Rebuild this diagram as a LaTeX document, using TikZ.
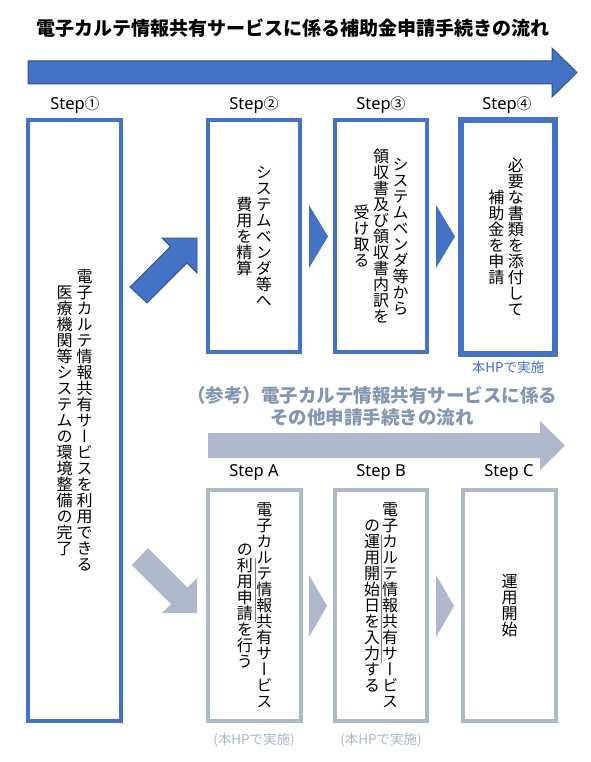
\documentclass[tikz,border=0pt]{standalone}
\usepackage{fontspec}
\setmainfont{Noto Sans CJK JP}
\newfontfamily\vfont{Noto Sans CJK JP}[RawFeature=+vert]
\newfontfamily\cjkfont{Noto Sans CJK JP}
\newfontfamily\latfont{Noto Sans}
\definecolor{ofblue}{HTML}{4472C4}
\definecolor{ofdark}{HTML}{2F528F}
\definecolor{ofgray}{HTML}{ADB9CA}
\definecolor{ofgraytext}{HTML}{8497B0}
\definecolor{seamgray}{HTML}{808080}
\makeatletter
\def\vcol@stop{}
\def\vcol@#1{\ifx#1\vcol@stop\else\hbox to 1em{\hss\vrule height .88em depth .12em width 0pt #1\hss}\expandafter\vcol@\fi}
\newcommand\vcol[1]{\vbox{\baselineskip=1em\lineskiplimit=-\maxdimen\lineskip=0pt\vcol@#1\vcol@stop}}
\newcommand\vc[1]{$\vcenter{\vcol{#1}}$}
\makeatother
\newcommand\circnum[1]{{\cjkfont\fontsize{15}{15}\selectfont #1}}
\tikzset{
  bluebox/.style={draw=ofblue, line width=4pt, fill=white, inner sep=0pt, font=\vfont\fontsize{16}{16}\selectfont},
  graybox/.style={draw=ofgray, line width=4pt, fill=white, inner sep=0pt, font=\vfont\fontsize{16}{16}\selectfont},
  steplbl/.style={font=\latfont\fontsize{16.5}{16.5}\selectfont, inner sep=0pt},
  bigarrowblue/.style={fill=ofblue, draw=ofdark, line width=1pt},
  bigarrowgray/.style={fill=ofgray},
  chevblue/.style={fill=ofblue},
  chevgray/.style={fill=ofgray},
  seam/.style={draw=seamgray, line width=1pt}
}
\begin{document}
\begin{tikzpicture}[x=1pt,y=-1pt]
\useasboundingbox[fill=white] (0,0) rectangle (590,762);

% title
\node[font=\bfseries\fontsize{19}{19}\selectfont, inner sep=0pt] (title) at (293,28) {電子カルテ情報共有サービスに係る補助金申請手続きの流れ};

% big blue arrow
\path[bigarrowblue] (28,61) -- (552,61) -- (552,48) -- (577,72.5) -- (552,97) -- (552,84) -- (28,84) -- cycle;

% step labels
\node[steplbl] (l1) at (75,105) {Step\circnum{①}};
\node[steplbl] (l2) at (254,105) {Step\circnum{②}};
\node[steplbl] (l3) at (381,105) {Step\circnum{③}};
\node[steplbl] (l4) at (507,105) {Step\circnum{④}};

% boxes top
\node[bluebox, minimum width=93pt, minimum height=601pt] (s1) at (74.5,420.5)
  {\hbox{\vc{医療機関等システムの環境整備の完了}\kern4pt\vc{電子カルテ情報共有サービスを利用できる}}};
\node[bluebox, minimum width=92pt, minimum height=232pt] (s2) at (254,236)
  {\hbox{\vc{費用を精算}\kern3.5pt\vc{システムベンダ等へ}}};
\node[bluebox, minimum width=92pt, minimum height=232pt] (s3) at (381,236)
  {\hbox{\vc{受け取る}\kern3.5pt\vc{領収書及び領収書内訳を}\kern3.5pt\vc{システムベンダ等から}}};
\node[bluebox, line width=6pt, minimum width=94pt, minimum height=234pt] (s4) at (508,237)
  {\hbox{\vc{補助金を申請}\kern3.5pt\vc{必要な書類を添付して}\kern4pt}};
\node[text=ofblue, font=\fontsize{13.5}{13.5}\selectfont, inner sep=0pt] (hp4) at (508,367) {本HPで実施};

% blue chevrons
\path[chevblue] (309,205) -- (328,236.5) -- (309,268) -- cycle;
\path[chevblue] (436,205) -- (455,236.5) -- (436,268) -- cycle;

% blue diagonal arrow
\path[bigarrowblue, line width=0.8pt] (130,287) -- (170.5,246.5) -- (162,238) -- (197,238) -- (197,273) -- (187,263) -- (147,303) -- cycle;

% reference title
\node[font=\bfseries\fontsize{18.5}{22}\selectfont, text=ofgraytext, align=center, inner sep=0pt] (sub) at (372,406)
  {（参考）電子カルテ情報共有サービスに係る\\その他申請手続きの流れ};

% big gray arrow
\path[bigarrowgray] (208,433) -- (540,433) -- (540,421) -- (565,445.5) -- (540,470) -- (540,458) -- (208,458) -- cycle;

% gray step labels
\node[steplbl] (la) at (254,473) {Step A};
\node[steplbl] (lb) at (381,473) {Step B};
\node[steplbl] (lc) at (509,473) {Step C};

% gray diagonal arrow
\path[bigarrowgray] (132,565) -- (171,604) -- (162,613) -- (197,613) -- (197,578) -- (187.5,587.5) -- (148,548) -- cycle;

% gray boxes
\node[graybox, minimum width=93pt, minimum height=231pt] (sa) at (254.5,605.5)
  {\hbox{\vc{の利用申請を行う}\kern3.5pt\vc{電子カルテ情報共有サービス}}};
\node[graybox, minimum width=92pt, minimum height=231pt] (sb) at (381,605.5)
  {\hbox{\vc{の運用開始日を入力する}\kern2pt\vc{電子カルテ情報共有サービス}}};
\node[graybox, minimum width=93pt, minimum height=231pt] (sc) at (509.5,605.5)
  {\hbox{\vc{運用開始}}};

\draw[seam] (255,558) -- (255,622);
\draw[seam] (381,535) -- (381,663);

% gray chevrons
\path[chevgray] (309,575) -- (327,606) -- (309,637) -- cycle;
\path[chevgray] (436,575) -- (454,606) -- (436,637) -- cycle;

\node[text=ofgray, font=\fontsize{13.5}{13.5}\selectfont, inner sep=0pt] (hpa) at (254,740) {(本HPで実施)};
\node[text=ofgray, font=\fontsize{13.5}{13.5}\selectfont, inner sep=0pt] (hpb) at (381,740) {(本HPで実施)};
\end{tikzpicture}
\end{document}
